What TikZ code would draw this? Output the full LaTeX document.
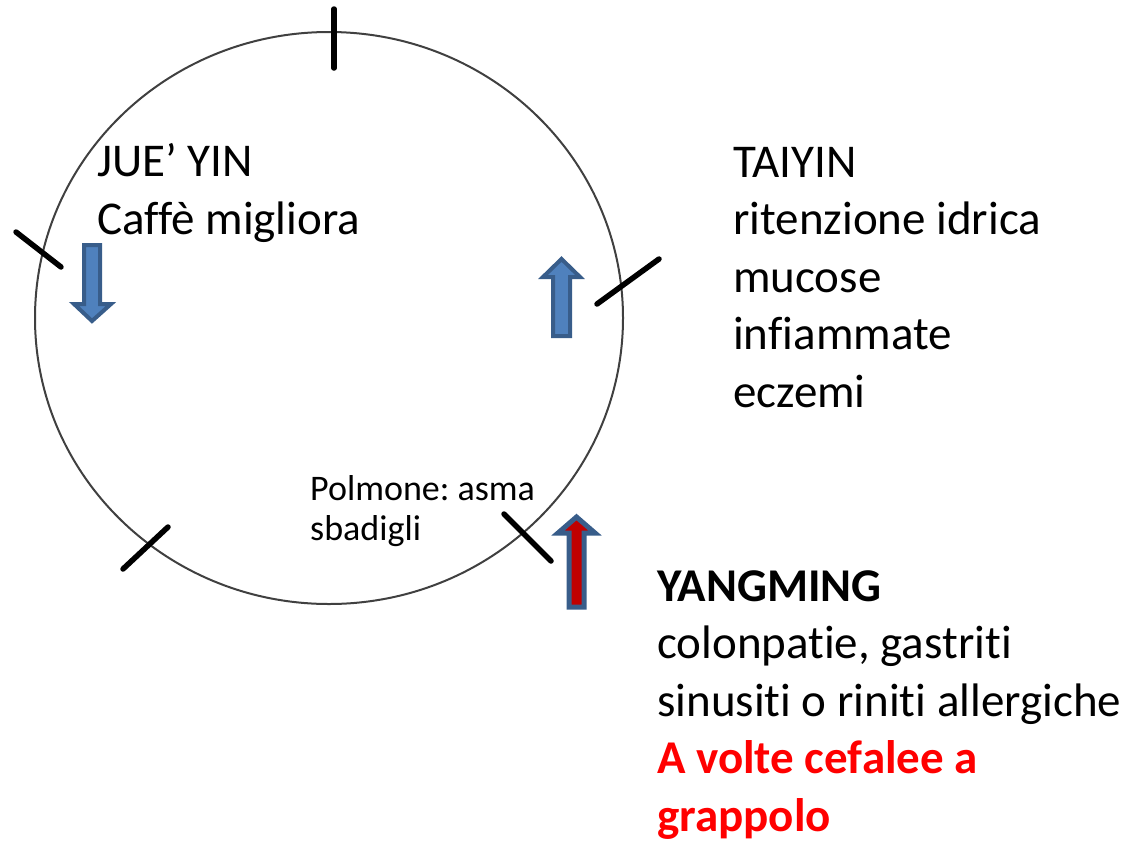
\documentclass[tikz,border=0pt]{standalone}
\usepackage{fontspec}
\setmainfont{Carlito}[Ligatures=NoCommon]
\frenchspacing
\definecolor{arrowfill}{HTML}{4F81BD}
\definecolor{arrowline}{HTML}{385D8A}
\definecolor{arrowred}{HTML}{C00000}
\definecolor{alertred}{HTML}{FF0000}
\tikzset{
  tick/.style={line width=5.5pt,black,line cap=round},
  blockarrow/.style={line width=4pt,draw=arrowline,fill=arrowfill,line join=miter},
  bigtext/.style={anchor=base west,inner sep=0pt,align=left,font=\fontsize{47}{57.5}\selectfont},
  smalltext/.style={anchor=base west,inner sep=0pt,align=left,font=\fontsize{36}{40}\selectfont}
}
\begin{document}
\begin{tikzpicture}[x=1pt,y=-1pt]
      \useasboundingbox (0,0) rectangle (1140,841);
      \draw[line width=2pt,black!75] (329,318) ellipse [x radius=294,y radius=286];
      % ticks on the circle
      \draw[tick] (334,9) -- (334,68);
      \draw[tick] (16,232) -- (61,267);
      \draw[tick] (597,304) -- (659,259);
      \draw[tick] (504,514) -- (551,561);
      \draw[tick] (123,569) -- (168,527);
      % block arrows
      \draw[blockarrow] (84,245) -- (100,245) -- (100,304) -- (111,304) -- (92,321) -- (74,304) -- (84,304) -- cycle;
      \draw[blockarrow] (553,336) -- (570,336) -- (570,277) -- (580,277) -- (561.5,259) -- (543,277) -- (553,277) -- cycle;
      \draw[blockarrow,line width=5pt,fill=arrowred] (569,607) -- (584,607) -- (584,533) -- (595,533) -- (576.5,517) -- (558,533) -- (569,533) -- cycle;
      % labels (anchored at the baseline of the last line)
      \node[bigtext] (jueyin) at (97,234) {JUE’ YIN\\Caffè migliora};
      \node[bigtext] (taiyin) at (733,407) {TAIYIN\\ritenzione idrica\\mucose\\infiammate\\eczemi};
      \node[smalltext] (polmone) at (310,540) {Polmone: asma\\sbadigli};
      \node[bigtext] (yangming) at (657,831) {\textbf{YANGMING}\\colonpatie, gastriti\\sinusiti o riniti allergiche\\\textcolor{alertred}{\textbf{A volte cefalee a}}\\\textcolor{alertred}{\textbf{grappolo}}};
\end{tikzpicture}
\end{document}
